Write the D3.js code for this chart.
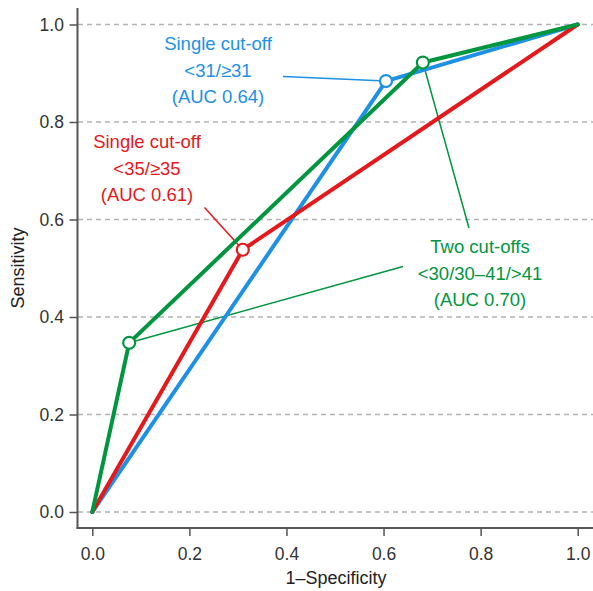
<!DOCTYPE html>
<html><head><meta charset="utf-8">
<script src="https://cdn.jsdelivr.net/npm/d3@7"></script>
<style>body{margin:0;background:#fff}svg{display:block}text{font-family:"Liberation Sans",Arial,Helvetica,sans-serif}</style>
</head><body><svg id="c" width="593" height="591"></svg>
<script>
const xTicks=[0,0.2,0.4,0.6,0.8,1.0];
const yTicks=[0,0.2,0.4,0.6,0.8,1.0];
const blueFpr=[0,0.605,1], blueTpr=[0,0.884,1];
const redFpr=[0,0.310,1], redTpr=[0,0.538,1];
const greenFpr=[0,0.076,0.681,1], greenTpr=[0,0.347,0.922,1];
const blueLabel=["Single cut-off","<31/≥31","(AUC 0.64)"];
const redLabel=["Single cut-off","<35/≥35","(AUC 0.61)"];
const greenLabel=["Two cut-offs","<30/30–41/>41","(AUC 0.70)"];
const C={blue:"#1e90e6",red:"#e3191c",green:"#00963f"};

const svg=d3.select("#c");
const x=d3.scaleLinear().domain([0,1]).range([92.3,577.7]);
const y=d3.scaleLinear().domain([0,1]).range([512,24.5]);

// grid
svg.append("g").selectAll("line").data(yTicks).join("line")
 .attr("x1",78).attr("x2",593).attr("y1",d=>y(d)).attr("y2",d=>y(d))
 .attr("stroke","#b3b3b3").attr("stroke-width",1.3).attr("stroke-dasharray","5,4");

// axes
const ax=svg.append("g").attr("transform","translate(0,528)")
 .call(d3.axisBottom(x).tickValues(xTicks).tickFormat(d3.format(".1f")).tickSize(8).tickSizeOuter(0));
const ay=svg.append("g").attr("transform","translate(77.5,0)")
 .call(d3.axisLeft(y).tickValues(yTicks).tickFormat(d3.format(".1f")).tickSize(8).tickSizeOuter(0));
[ax,ay].forEach(g=>{
 g.selectAll("line").attr("stroke","#555").attr("stroke-width",1.5);
 g.selectAll("text").attr("fill","#333").style("font-size","17.5px");
 g.select(".domain").remove();
});
ax.selectAll("text").attr("dy","1.2em");
ay.selectAll("text").attr("dx","-0.15em");
svg.append("line").attr("x1",77.5).attr("x2",77.5).attr("y1",8).attr("y2",528.7).attr("stroke","#555").attr("stroke-width",2);
svg.append("line").attr("x1",76.5).attr("x2",593).attr("y1",528).attr("y2",528).attr("stroke","#555").attr("stroke-width",2);

svg.append("text").attr("x",336).attr("y",584).attr("text-anchor","middle").attr("fill","#222").style("font-size","18px").text("1–Specificity");
svg.append("text").attr("transform","translate(24,268) rotate(-90)").attr("text-anchor","middle").attr("fill","#222").style("font-size","18px").text("Sensitivity");

// leader lines
function lead(x1,y1,x2,y2,col){svg.append("line").attr("x1",x1).attr("y1",y1).attr("x2",x2).attr("y2",y2).attr("stroke",col).attr("stroke-width",1.5);}
lead(283,76.5,x(blueFpr[1]),y(blueTpr[1]),C.blue);
lead(204.5,207.5,x(redFpr[1]),y(redTpr[1]),C.red);
lead(403,266.5,x(greenFpr[1]),y(greenTpr[1]),C.green);
lead(469,228,x(greenFpr[2]),y(greenTpr[2]),C.green);

const line=d3.line().x(d=>x(d[0])).y(d=>y(d[1]));
const series=[[blueFpr,blueTpr,C.blue],[redFpr,redTpr,C.red],[greenFpr,greenTpr,C.green]];
series.forEach(([f,t,c])=>{
 svg.append("path").datum(f.map((v,i)=>[v,t[i]])).attr("d",line).attr("fill","none").attr("stroke",c).attr("stroke-width",4).attr("stroke-linejoin","round").attr("stroke-linecap","round");
});
series.forEach(([f,t,c])=>{
 const pts=f.map((v,i)=>[v,t[i]]).slice(1,-1);
 svg.append("g").selectAll("circle").data(pts).join("circle")
  .attr("cx",d=>x(d[0])).attr("cy",d=>y(d[1])).attr("r",6).attr("fill","#fff").attr("stroke",c).attr("stroke-width",2.2);
});

function label(lines,cx,y0,col){
 svg.append("g").selectAll("text").data(lines).join("text")
  .attr("x",cx).attr("y",(d,i)=>y0+i*26.5).attr("text-anchor","middle").attr("fill",col).style("font-size","18.5px").text(d=>d);
}
label(blueLabel,218,50,C.blue);
label(redLabel,147,148,C.red);
label(greenLabel,480,253,C.green);
</script></body></html>
